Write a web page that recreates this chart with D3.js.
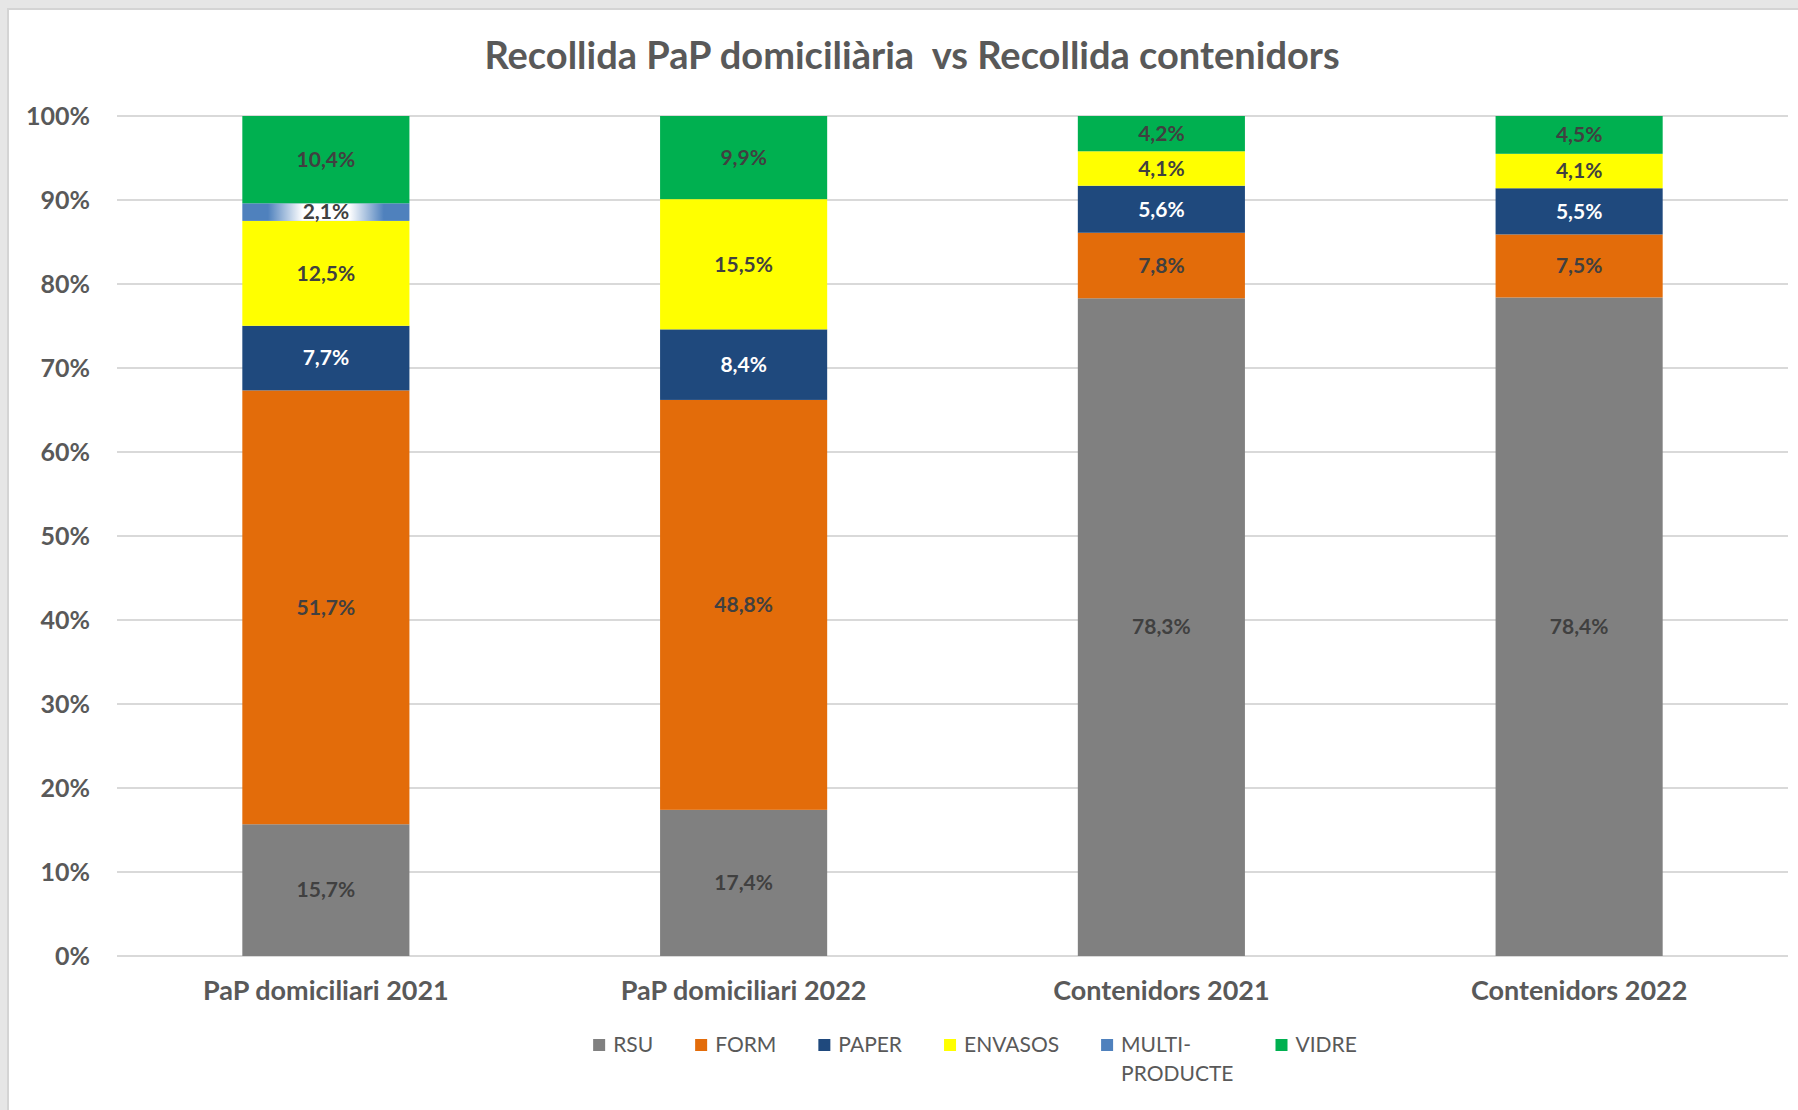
<!DOCTYPE html>
<html>
<head>
<meta charset="utf-8">
<script src="https://cdn.jsdelivr.net/npm/d3@7"></script>
<style>
  html, body { margin: 0; padding: 0; background: #e9e9e9; }
  svg { display: block; }
</style>
</head>
<body>
<svg id="chart" width="1798" height="1110"></svg>
<script>
// ---------- DATA ----------
const categories = ["PaP domiciliari 2021", "PaP domiciliari 2022", "Contenidors 2021", "Contenidors 2022"];
const seriesNames = ["RSU", "FORM", "PAPER", "ENVASOS", "MULTI-PRODUCTE", "VIDRE"];
const legendLabels = [["RSU"], ["FORM"], ["PAPER"], ["ENVASOS"], ["MULTI-", "PRODUCTE"], ["VIDRE"]];
const rsu     = [15.7, 17.4, 78.3, 78.4];
const form    = [51.7, 48.8, 7.8, 7.5];
const paper   = [7.7, 8.4, 5.6, 5.5];
const envasos = [12.5, 15.5, 4.1, 4.1];
const multi   = [2.1, 0, 0, 0];
const vidre   = [10.4, 9.9, 4.2, 4.5];
const yTicks  = [0, 0.1, 0.2, 0.3, 0.4, 0.5, 0.6, 0.7, 0.8, 0.9, 1.0];
const titleText = "Recollida PaP domiciliària  vs Recollida contenidors";

const seriesValues = [rsu, form, paper, envasos, multi, vidre];
const colors = ["#808080", "#E36C0A", "#1F497D", "#FFFF00", "#4F81BD", "#00B050"];
const labelColors = ["#404040", "#404040", "#ffffff", "#404040", "#404040", "#404040"];

const rows = categories.map((c, i) => {
  const r = { cat: c };
  seriesNames.forEach((s, j) => r[s] = seriesValues[j][i]);
  return r;
});

// ---------- LAYOUT ----------
const svg = d3.select("#chart");
const FONT = "Lato, 'Noto Sans', sans-serif";
const textCol = "#595959";

svg.append("rect").attr("x", 0).attr("y", 0).attr("width", 1798).attr("height", 1110).attr("fill", "#e6e6e6");
svg.append("rect").attr("x", 8).attr("y", 9).attr("width", 1800).attr("height", 1110)
  .attr("fill", "#ffffff").attr("stroke", "#d4d4d4").attr("stroke-width", 2);

const plot = { left: 117, right: 1788, top: 116, bottom: 956 };

const x = d3.scaleBand().domain(categories).range([plot.left, plot.right])
  .paddingInner(0.6).paddingOuter(0.3);
const y = d3.scaleLinear().domain([0, 1]).range([plot.bottom, plot.top]);

// gridlines
svg.append("g").selectAll("line").data(yTicks).join("line")
  .attr("x1", plot.left).attr("x2", plot.right)
  .attr("y1", d => y(d)).attr("y2", d => y(d))
  .attr("stroke", "#d9d9d9").attr("stroke-width", 2);

// y axis labels
const yAxis = d3.axisLeft(y).tickValues(yTicks).tickFormat(d3.format(".0%")).tickSize(0).tickPadding(0);
const yg = svg.append("g").attr("transform", `translate(90,0)`).call(yAxis);
yg.select(".domain").remove();
yg.selectAll("text").attr("font-family", FONT).attr("font-size", 25).attr("font-weight", "bold")
  .attr("fill", textCol).attr("dy", "0.35em");

// stack
const stack = d3.stack().keys(seriesNames).offset(d3.stackOffsetExpand);
const stacked = stack(rows);

const defs = svg.append("defs");
const grad = defs.append("linearGradient").attr("id", "glow").attr("x1", "0%").attr("x2", "100%");
grad.append("stop").attr("offset", "0%").attr("stop-color", "#fff").attr("stop-opacity", 0);
grad.append("stop").attr("offset", "30%").attr("stop-color", "#fff").attr("stop-opacity", 1);
grad.append("stop").attr("offset", "70%").attr("stop-color", "#fff").attr("stop-opacity", 1);
grad.append("stop").attr("offset", "100%").attr("stop-color", "#fff").attr("stop-opacity", 0);

const fmt = v => d3.format(".1f")(v).replace(".", ",") + "%";

stacked.forEach((layer, si) => {
  const g = svg.append("g");
  g.selectAll("rect").data(layer.filter(d => d.data[layer.key] > 0)).join("rect")
    .attr("x", d => x(d.data.cat))
    .attr("width", x.bandwidth())
    .attr("y", d => y(d[1]))
    .attr("height", d => y(d[0]) - y(d[1]))
    .attr("fill", colors[si]);
  const lab = layer.filter(d => d.data[layer.key] > 0);
  if (layer.key === "MULTI-PRODUCTE") {
    g.selectAll("rect.glow").data(lab).join("rect").attr("class", "glow")
      .attr("x", d => x(d.data.cat) + x.bandwidth() / 2 - 58)
      .attr("width", 116)
      .attr("y", d => y(d[1]))
      .attr("height", d => y(d[0]) - y(d[1]))
      .attr("fill", "url(#glow)");
  }
  g.selectAll("text").data(lab).join("text")
    .attr("x", d => x(d.data.cat) + x.bandwidth() / 2)
    .attr("y", d => (y(d[0]) + y(d[1])) / 2)
    .attr("dy", "0.35em")
    .attr("text-anchor", "middle")
    .attr("font-family", FONT).attr("font-size", 21).attr("font-weight", "bold")
    .attr("fill", labelColors[si])
    .text(d => fmt(d.data[layer.key]));
});

// x axis labels
const xAxis = d3.axisBottom(x).tickSize(0).tickPadding(0);
const xg = svg.append("g").attr("transform", `translate(0,${plot.bottom + 35})`).call(xAxis);
xg.select(".domain").remove();
xg.selectAll("text").attr("font-family", FONT).attr("font-size", 27).attr("font-weight", "bold")
  .attr("fill", textCol).attr("dy", "0.35em");

// title
svg.append("text").attr("x", 912).attr("y", 56).attr("dy", "0.35em")
  .attr("text-anchor", "middle").attr("font-family", FONT).attr("font-size", 38)
  .attr("font-weight", "bold").attr("fill", textCol)
  .style("white-space", "pre").text(titleText);

// legend
const leg = svg.append("g");
let cx = 0;
legendLabels.forEach((lines, i) => {
  const it = leg.append("g");
  it.append("rect").attr("x", 0).attr("y", -6).attr("width", 12).attr("height", 12).attr("fill", colors[i]);
  let w = 0;
  lines.forEach((ln, k) => {
    const t = it.append("text").attr("x", 20).attr("y", k * 29).attr("dy", "0.35em")
      .attr("font-family", FONT).attr("font-size", 21).attr("fill", textCol).text(ln);
    w = Math.max(w, t.node().getComputedTextLength());
  });
  it.attr("transform", `translate(${cx},0)`);
  cx += 20 + w + 42;
});
const legW = cx - 42;
leg.attr("transform", `translate(${975 - legW / 2},${1045})`);
</script>
</body>
</html>
